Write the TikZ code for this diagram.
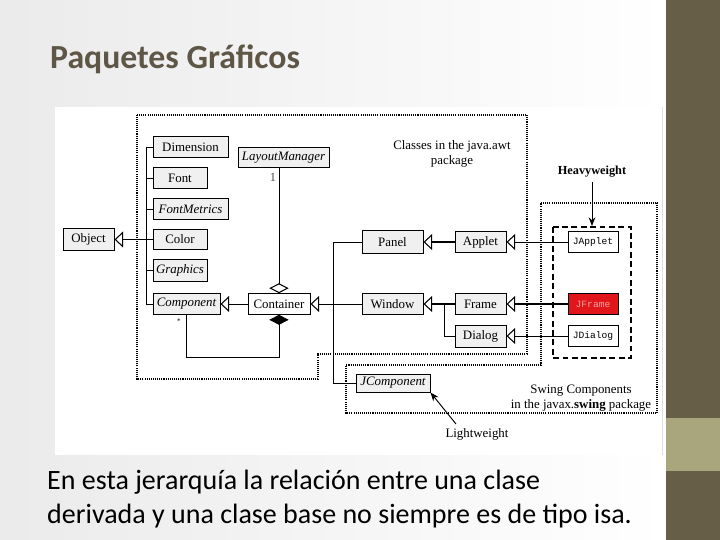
\documentclass[tikz,border=0pt]{standalone}
\usepackage{fontspec}
\setmainfont{Carlito}
\newfontfamily\figfont{Liberation Serif}
\newfontfamily\figmono{Liberation Mono}
\usepackage{xcolor}
\usetikzlibrary{arrows.meta}

\definecolor{slidetitle}{HTML}{5E5646}
\definecolor{stripdark}{HTML}{675E48}
\definecolor{stripband}{HTML}{A9A67E}
\definecolor{framered}{HTML}{E0161B}
\definecolor{framepink}{HTML}{F4A0A0}

\tikzset{
  classbox/.style={draw, line width=0.8pt, fill=black!6, minimum height=0.62cm,
    inner sep=1pt, font=\figfont\fontsize{11}{12}\selectfont},
  swingbox/.style={classbox, fill=white, font=\figmono\fontsize{8.2}{9}\selectfont},
  figlabel/.style={font=\figfont\fontsize{11}{12.5}\selectfont, align=center},
  isa/.style={-{Triangle[open, length=0.26cm, width=0.48cm, line width=0.9pt]}, line width=0.8pt},
  isathick/.style={isa, line width=1.8pt},
  pkgline/.style={line width=1pt, dash pattern=on 0.9pt off 0.9pt},
}

\begin{document}
\begin{tikzpicture}[x=0.03cm, y=-0.03cm]
  \useasboundingbox (0,0) rectangle (720,540);

  % Drawing slide background
  \shade[left color=black!8, right color=white] (0,0) rectangle (666,540);
  \fill[stripdark] (666,0) rectangle (720,540);
  \fill[stripband] (666,418) rectangle (720,471);
  \fill[white] (55,107) rectangle (662,455);
  \draw[black!12, line width=0.6pt] (662,107) -- (662,455);

  % Drawing title and text
  \node[anchor=base west, text=slidetitle, font=\fontsize{28.8}{32}\selectfont\bfseries, inner sep=0pt] (title) at (50,69) {Paquetes Gráficos};
  \node[anchor=base west, font=\fontsize{23.9}{28}\selectfont, inner sep=0pt] (lineone) at (47,489) {En esta jerarquía la relación entre una clase};
  \node[anchor=base west, font=\fontsize{23.9}{28}\selectfont, inner sep=0pt] (linetwo) at (47,523) {derivada y una clase base no siempre es de tipo isa.};

  % Drawing package borders
  \draw[pkgline] (137,115) -- (527,115) -- (527,354) -- (318,354) -- (318,379) -- (137,379) -- cycle;
  \draw[pkgline] (541,203) -- (657,203) -- (657,413) -- (346,413) -- (346,365) -- (541,365) -- cycle;
  \draw[line width=0.9pt, dash pattern=on 5pt off 3pt] (553,227) rectangle (631,358);

  % Drawing classes
  \node[classbox, minimum width=1.53cm, minimum height=0.66cm] (Object) at (88.5,239.5) {Object};
  \node[classbox, minimum width=2.25cm] (Dimension) at (190.5,147) {Dimension};
  \node[classbox, minimum width=1.62cm] (Font) at (180,178) {Font};
  \node[classbox, minimum width=2.25cm] (FontMetrics) at (190.5,209) {\itshape FontMetrics};
  \node[classbox, minimum width=1.62cm] (Color) at (180,239.5) {Color};
  \node[classbox, minimum width=1.62cm, minimum height=0.66cm] (Graphics) at (180,270.5) {\itshape Graphics};
  \node[classbox, minimum width=2.01cm] (Component) at (186.5,304) {\itshape Component};
  \node[classbox, minimum width=2.73cm] (LayoutManager) at (283.5,157.5) {\itshape LayoutManager};
  \node[classbox, minimum width=1.86cm, fill=white] (Container) at (279,304) {Container};
  \node[classbox, minimum width=1.83cm, minimum height=0.69cm] (Panel) at (392.5,242) {Panel};
  \node[classbox, minimum width=1.83cm] (Window) at (392.5,304) {Window};
  \node[classbox, minimum width=1.53cm] (Applet) at (480.5,242) {Applet};
  \node[classbox, minimum width=1.53cm] (Frame) at (480.5,304) {Frame};
  \node[classbox, minimum width=1.53cm, minimum height=0.66cm] (Dialog) at (480.5,336) {Dialog};
  \node[swingbox, minimum width=1.5cm] (JApplet) at (593,242) {JApplet};
  \node[swingbox, minimum width=1.5cm, fill=framered, text=framepink] (JFrame) at (593,304) {JFrame};
  \node[swingbox, minimum width=1.5cm] (JDialog) at (593,336) {JDialog};
  \node[classbox, minimum width=2.22cm, minimum height=0.54cm] (JComponent) at (393,383) {\itshape JComponent};

  % Drawing package labels
  \node[figlabel] (awtlabel) at (452,154) {Classes in the java.awt\\package};
  \node[figlabel] (swinglabel) at (581,398) {Swing Components\\in the javax.\textbf{swing} package};
  \node[figlabel, font=\figfont\bfseries\fontsize{10.5}{12}\selectfont] (heavy) at (592,172) {Heavyweight};
  \node[figlabel] (light) at (477,434) {Lightweight};
  \coordinate (heavyend) at (592,226);
  \coordinate (lightstart) at (456,424);

  % Drawing inheritance from Object
  \draw[isa] (Color.west) -- (Object.east);
  \draw[line width=0.8pt] (Dimension.west) -- ++(-6,0) |- (Component.west);
  \draw[line width=0.8pt] (Font.west) -- ++(-6,0);
  \draw[line width=0.8pt] (FontMetrics.west) -- ++(-6,0);
  \draw[line width=0.8pt] (Graphics.west) -- ++(-6,0);

  % Drawing Container links
  \draw[isa] (Container.west) -- (Component.east);
  \draw[{Diamond[open, length=0.3cm, width=0.58cm, line width=0.9pt]}-, line width=0.8pt] (Container.north) -- (Container.north |- LayoutManager.south);
  \node[font=\figfont\fontsize{10.5}{12}\selectfont, text=black!70] (one) at (273,177) {1};
  \draw[{Diamond[length=0.3cm, width=0.58cm]}-, line width=0.8pt] (Container.south) -- ++(0,43) -| (Component.south);
  \node[font=\figfont\fontsize{6}{7}\selectfont] (many) at (179,321) {*};

  % Drawing awt subclasses
  \draw[isa] (Window.west) -- (Container.east);
  \draw[line width=0.8pt] (Panel.west) -- ++(-28,0) |- (JComponent.west);
  \draw[isathick] (Applet.west) -- (Panel.east);
  \draw[isathick] (Frame.west) -- (Window.east);
  \coordinate (winbranch) at (444,304);
  \draw[line width=0.8pt] (Dialog.west) -| (winbranch);

  % Drawing swing subclasses
  \draw[isa] (JApplet.west) -- (Applet.east);
  \draw[isathick] (JFrame.west) -- (Frame.east);
  \draw[isa] (JDialog.west) -- (Dialog.east);

  % Drawing weight pointers
  \draw[-{Stealth[length=0.26cm, width=0.2cm]}, line width=0.8pt] (heavy.south) -- (heavyend);
  \draw[-{Stealth[length=0.26cm, width=0.2cm]}, line width=0.8pt] (lightstart) -- (JComponent.south east);
\end{tikzpicture}
\end{document}
